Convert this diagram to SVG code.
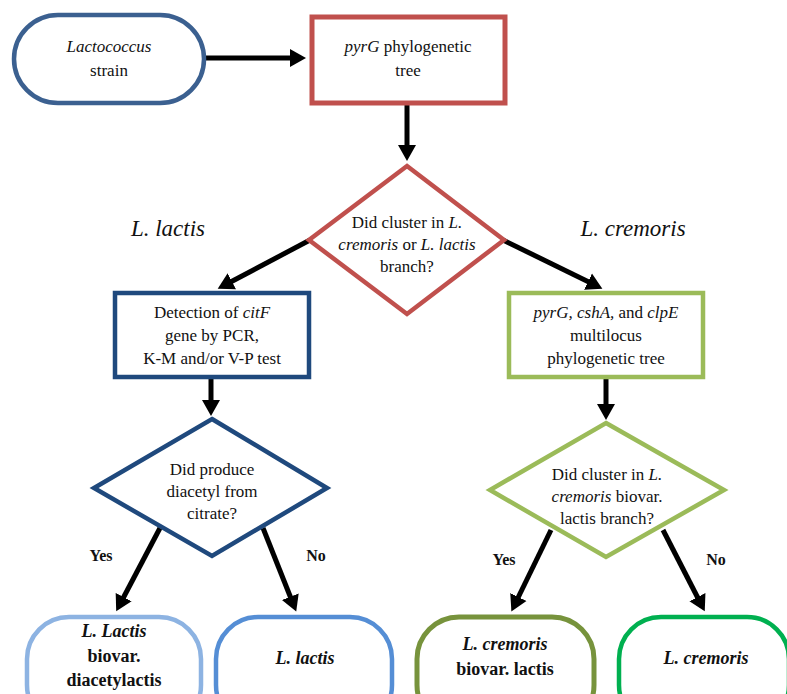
<svg xmlns="http://www.w3.org/2000/svg" width="787" height="694" viewBox="0 0 787 694" font-family="'Liberation Serif', 'DejaVu Serif', serif">
<style>
text{fill:#111;text-anchor:middle}
.t{font-size:17px}
.b{font-size:18px;font-weight:bold}
.lab{font-size:23px;font-style:italic}
.yn{font-size:16px;font-weight:bold}
.c line{stroke:#000;stroke-width:5;marker-end:url(#ah)}
.n{fill:#fff}
</style>
<defs>
<marker id="ah" markerWidth="4" markerHeight="4" refX="2" refY="2" orient="auto" markerUnits="strokeWidth">
<path d="M0,0.2 L3.2,2 L0,3.8 Z" fill="#000"/>
</marker>
</defs>
<rect width="787" height="694" fill="#fff"/>
<g class="c" id="connectors">
<line x1="205" y1="58" x2="300" y2="58"/>
<line x1="407" y1="105" x2="407" y2="155"/>
<line x1="310" y1="240" x2="223" y2="286"/>
<line x1="503" y1="240" x2="597" y2="286"/>
<line x1="211" y1="378" x2="211" y2="410"/>
<line x1="606" y1="378" x2="606" y2="414"/>
<line x1="160" y1="528" x2="119" y2="606"/>
<line x1="263" y1="528" x2="294" y2="606"/>
<line x1="551" y1="530" x2="514" y2="606"/>
<line x1="663" y1="530" x2="702" y2="606"/>
</g>
<g id="start">
<rect class="n" x="14" y="15" width="190" height="88" rx="44" stroke="#3b6090" stroke-width="4.5"/>
<text class="t" x="109" y="52" font-style="italic">Lactococcus</text>
<text class="t" x="109" y="76">strain</text>
</g>
<g id="pyrg">
<rect class="n" x="312" y="17" width="193" height="86" stroke="#c0504d" stroke-width="5"/>
<text class="t" x="408" y="52"><tspan font-style="italic">pyrG</tspan> phylogenetic</text>
<text class="t" x="408" y="76">tree</text>
</g>
<g id="d1">
<polygon class="n" points="407,166 504,240 407,314 309,240" stroke="#c0504d" stroke-width="4.5"/>
<text class="t" x="407" y="228">Did cluster in <tspan font-style="italic">L.</tspan></text>
<text class="t" x="407" y="250"><tspan font-style="italic">cremoris</tspan> or <tspan font-style="italic">L. lactis</tspan></text>
<text class="t" x="407" y="272">branch?</text>
</g>
<text class="lab" x="168" y="236">L. lactis</text>
<text class="lab" x="633" y="236">L. cremoris</text>
<g id="citf">
<rect class="n" x="115" y="293" width="194" height="84" stroke="#1f497d" stroke-width="4.5"/>
<text class="t" x="212" y="318">Detection of <tspan font-style="italic">citF</tspan></text>
<text class="t" x="212" y="341">gene by PCR,</text>
<text class="t" x="212" y="364">K-M and/or V-P test</text>
</g>
<g id="mlst">
<rect class="n" x="509" y="293" width="194" height="84" stroke="#9bbb59" stroke-width="4.5"/>
<text class="t" x="606" y="318"><tspan font-style="italic">pyrG, cshA,</tspan> and <tspan font-style="italic">clpE</tspan></text>
<text class="t" x="606" y="341">multilocus</text>
<text class="t" x="606" y="364">phylogenetic tree</text>
</g>
<g id="d2">
<polygon class="n" points="212,419 327,488 212,556 94,488" stroke="#1f497d" stroke-width="4.5"/>
<text class="t" x="212" y="475">Did produce</text>
<text class="t" x="212" y="497">diacetyl from</text>
<text class="t" x="212" y="519">citrate?</text>
</g>
<g id="d3">
<polygon class="n" points="606,423 724,490 606,557 490,490" stroke="#9bbb59" stroke-width="4.5"/>
<text class="t" x="607" y="480">Did cluster in <tspan font-style="italic">L.</tspan></text>
<text class="t" x="607" y="502"><tspan font-style="italic">cremoris</tspan> biovar.</text>
<text class="t" x="607" y="524">lactis branch?</text>
</g>
<text class="yn" x="101" y="561">Yes</text>
<text class="yn" x="316" y="561">No</text>
<text class="yn" x="504" y="565">Yes</text>
<text class="yn" x="716" y="565">No</text>
<g id="r1">
<rect class="n" x="27" y="617" width="174" height="110" rx="42" stroke="#8db3e2" stroke-width="4.5"/>
<text class="b" x="114" y="637"><tspan font-style="italic">L. Lactis</tspan></text>
<text class="b" x="114" y="662">biovar.</text>
<text class="b" x="114" y="686">diacetylactis</text>
</g>
<g id="r2">
<rect class="n" x="216" y="617" width="176" height="110" rx="42" stroke="#558ed5" stroke-width="4.5"/>
<text class="b" x="305" y="664" font-style="italic">L. lactis</text>
</g>
<g id="r3">
<rect class="n" x="417" y="617" width="177" height="110" rx="42" stroke="#77933c" stroke-width="5"/>
<text class="b" x="505" y="650" font-style="italic">L. cremoris</text>
<text class="b" x="505" y="675">biovar. lactis</text>
</g>
<g id="r4">
<rect class="n" x="619" y="617" width="170" height="110" rx="42" stroke="#00b050" stroke-width="4.5"/>
<text class="b" x="706" y="664" font-style="italic">L. cremoris</text>
</g>
</svg>
